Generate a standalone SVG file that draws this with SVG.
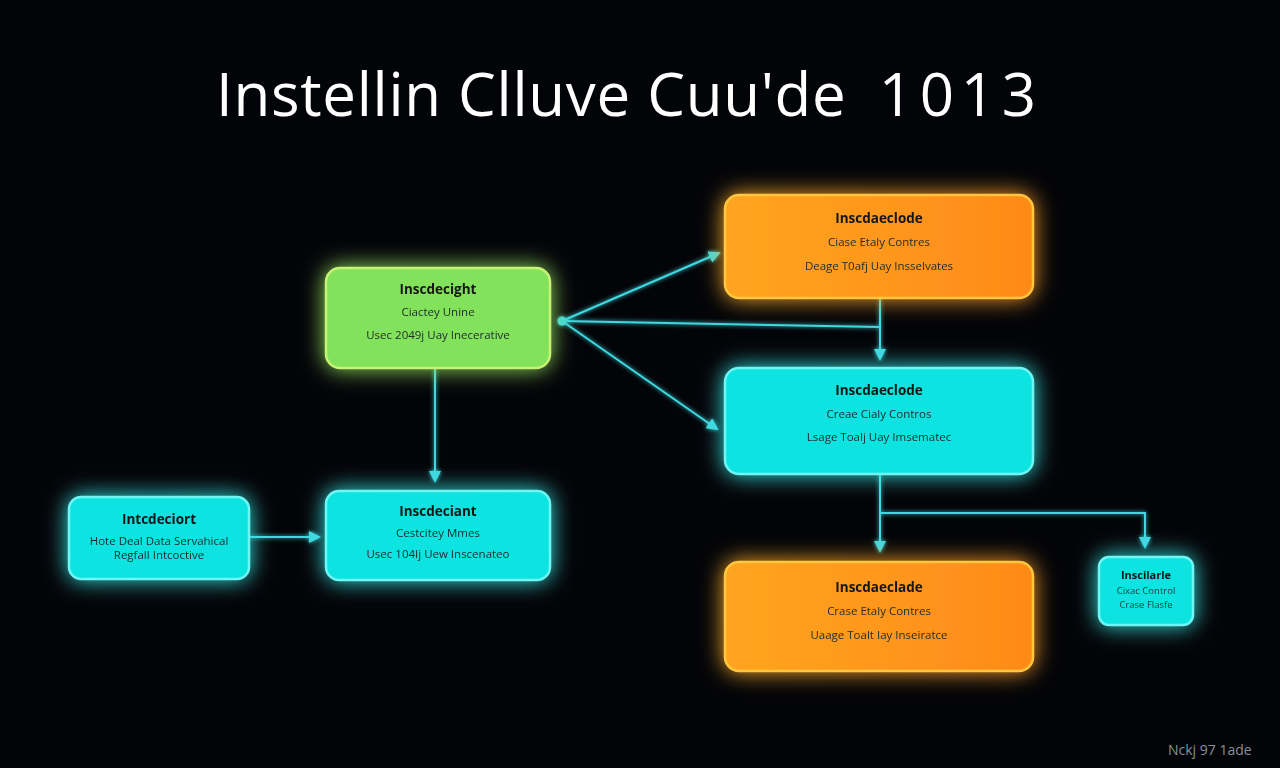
<svg xmlns="http://www.w3.org/2000/svg" width="1280" height="768" viewBox="0 0 1280 768">
<defs>
<filter id="glow" x="-30%" y="-40%" width="160%" height="180%">
<feGaussianBlur in="SourceGraphic" stdDeviation="11" result="b"/>
<feMerge><feMergeNode in="b"/><feMergeNode in="SourceGraphic"/></feMerge>
</filter>
<filter id="lglow" x="-20%" y="-20%" width="140%" height="140%">
<feGaussianBlur in="SourceGraphic" stdDeviation="2" result="b"/>
<feMerge><feMergeNode in="b"/><feMergeNode in="SourceGraphic"/></feMerge>
</filter>
<linearGradient id="gOrange" x1="0" y1="0" x2="1" y2="0">
<stop offset="0" stop-color="#ffa520"/><stop offset="1" stop-color="#ff8a18"/>
</linearGradient>
<marker id="arr" markerWidth="12" markerHeight="12" refX="10" refY="6" orient="auto" markerUnits="userSpaceOnUse">
<path d="M0,0 L12,6 L0,12 Z" fill="#3fd8e0"/>
</marker>
<style>
.bg{fill:#030408}
.title{font-family:"Open Sans","Noto Sans","Liberation Sans",sans-serif;font-size:60px;fill:#ffffff}
.green{fill:#82e25c;stroke:#c8f274;stroke-width:2.5}
.cyan{fill:#0ee4e2;stroke:#6ef6f4;stroke-width:2.5}
.orange{fill:url(#gOrange);stroke:#ffc640;stroke-width:2.5}
.h{font-family:"Open Sans","Noto Sans","Liberation Sans",sans-serif;font-size:13.5px;font-weight:bold;fill:#141414;text-anchor:middle}
.t{font-family:"Open Sans","Noto Sans","Liberation Sans",sans-serif;font-size:11.5px;fill:#1e2a2a;text-anchor:middle}
.ts{font-family:"Open Sans","Noto Sans","Liberation Sans",sans-serif;font-size:9.5px;fill:#1e3a3a;text-anchor:middle}
.hs{font-family:"Open Sans","Noto Sans","Liberation Sans",sans-serif;font-size:11px;font-weight:bold;fill:#141414;text-anchor:middle}
.line{fill:none;stroke:#3fd8e0;stroke-width:2}
.foot{font-family:"Open Sans","Noto Sans","Liberation Sans",sans-serif;font-size:14px;fill:#8a8f96}
</style>
</defs>
<rect class="bg" x="0" y="0" width="1280" height="768"/>
<text class="title" x="216" y="116" textLength="826" lengthAdjust="spacing">Instellin Clluve Cuu'de <tspan letter-spacing="6" dx="16">1013</tspan></text>

<g id="connectors" filter="url(#lglow)">
<circle cx="562" cy="321" r="4.5" fill="#3fd8e0"/>
<line class="line" x1="562" y1="321" x2="719" y2="253" marker-end="url(#arr)"/>
<line class="line" x1="562" y1="321" x2="717" y2="429" marker-end="url(#arr)"/>
<polyline class="line" points="562,321 880,327"/>
<line class="line" x1="880" y1="298" x2="880" y2="359" marker-end="url(#arr)"/>
<line class="line" x1="435" y1="368" x2="435" y2="481" marker-end="url(#arr)"/>
<line class="line" x1="249" y1="537" x2="319" y2="537" marker-end="url(#arr)"/>
<line class="line" x1="880" y1="474" x2="880" y2="551" marker-end="url(#arr)"/>
<polyline class="line" points="880,513 1145,513 1145,547" marker-end="url(#arr)"/>
</g>

<g id="node-green" filter="url(#glow)">
<rect class="green" x="326" y="268" width="224" height="100" rx="14"/>
<text class="h" x="438" y="294">Inscdecight</text>
<text class="t" x="438" y="316">Ciactey Unine</text>
<text class="t" x="438" y="339">Usec 2049j Uay Inecerative</text>
</g>

<g id="node-left" filter="url(#glow)">
<rect class="cyan" x="69" y="497" width="180" height="82" rx="12"/>
<text class="h" x="159" y="524">Intcdeciort</text>
<text class="t" x="159" y="545">Hote Deal Data Servahical</text>
<text class="t" x="159" y="559">Regfall Intcoctive</text>
</g>

<g id="node-mid" filter="url(#glow)">
<rect class="cyan" x="326" y="491" width="224" height="89" rx="13"/>
<text class="h" x="438" y="516">Inscdeciant</text>
<text class="t" x="438" y="537">Cestcitey Mmes</text>
<text class="t" x="438" y="558">Usec 104Ij Uew Inscenateo</text>
</g>

<g id="node-orange-top" filter="url(#glow)">
<rect class="orange" x="725" y="195" width="308" height="103" rx="14"/>
<text class="h" x="879" y="223">Inscdaeclode</text>
<text class="t" x="879" y="246">Ciase Etaly Contres</text>
<text class="t" x="879" y="270">Deage T0afj Uay Insselvates</text>
</g>

<g id="node-cyan-right" filter="url(#glow)">
<rect class="cyan" x="725" y="368" width="308" height="106" rx="14"/>
<text class="h" x="879" y="395">Inscdaeclode</text>
<text class="t" x="879" y="418">Creae Cialy Contros</text>
<text class="t" x="879" y="441">Lsage Toalj Uay Imsematec</text>
</g>

<g id="node-orange-bottom" filter="url(#glow)">
<rect class="orange" x="725" y="562" width="308" height="109" rx="14"/>
<text class="h" x="879" y="592">Inscdaeclade</text>
<text class="t" x="879" y="615">Crase Etaly Contres</text>
<text class="t" x="879" y="639">Uaage Toalt Iay Inseiratce</text>
</g>

<g id="node-small" filter="url(#glow)">
<rect class="cyan" x="1099" y="557" width="94" height="68" rx="10"/>
<text class="hs" x="1146" y="579">Inscilarle</text>
<text class="ts" x="1146" y="594">Cixac Control</text>
<text class="ts" x="1146" y="608">Crase Flasfe</text>
</g>

<text class="foot" x="1168" y="755">Nckj 97 1ade</text>
</svg>
